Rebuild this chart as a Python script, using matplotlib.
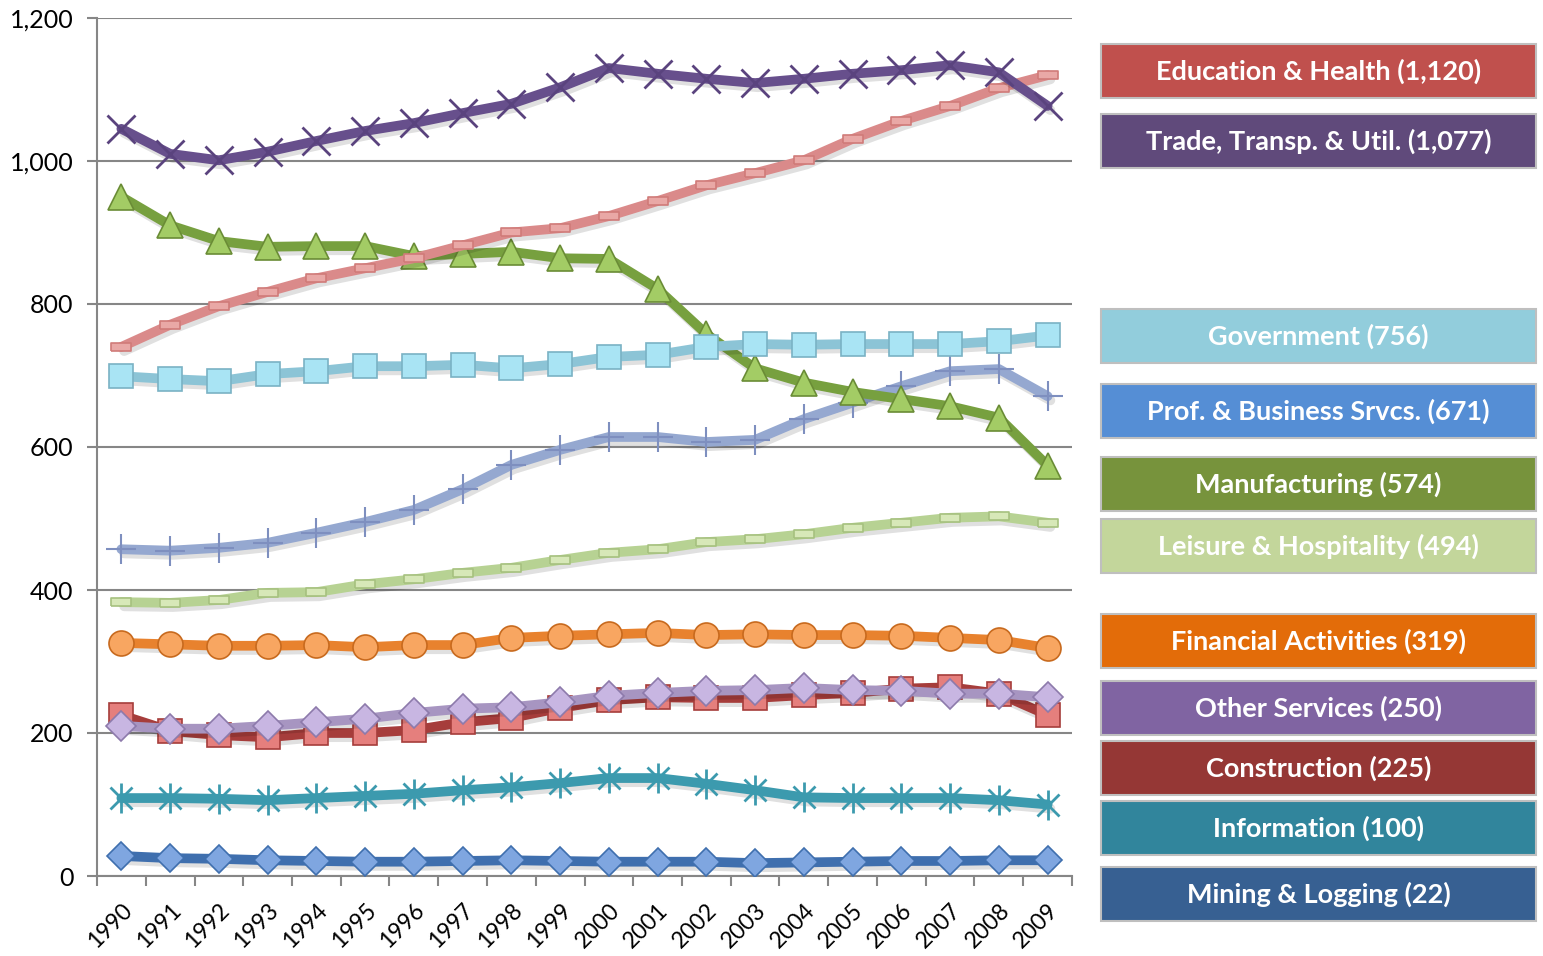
import matplotlib.pyplot as plt
from matplotlib.patches import Rectangle
import matplotlib.patheffects as pe
from matplotlib.ticker import FuncFormatter
import numpy as np

years = list(range(1990, 2010))

edu_health = [740, 771, 797, 817, 836, 850, 864, 882, 900, 906, 923, 944, 966, 983, 1001, 1031, 1056, 1077, 1102, 1120]
trade = [1045, 1010, 1001, 1013, 1028, 1042, 1053, 1067, 1080, 1103, 1130, 1122, 1115, 1109, 1115, 1122, 1127, 1134, 1124, 1077]
manufacturing = [950, 910, 888, 880, 881, 881, 867, 870, 873, 864, 863, 821, 758, 710, 690, 677, 667, 657, 641, 574]
government = [699, 695, 692, 702, 706, 713, 713, 715, 710, 716, 726, 729, 740, 744, 743, 744, 744, 744, 748, 756]
prof_business = [457, 455, 459, 466, 480, 495, 512, 541, 575, 596, 614, 614, 607, 610, 639, 662, 685, 706, 709, 671]
leisure = [383, 382, 386, 396, 397, 408, 415, 424, 431, 442, 452, 457, 467, 471, 478, 487, 494, 501, 503, 494]
financial = [326, 324, 322, 322, 323, 320, 323, 323, 333, 336, 338, 340, 337, 338, 337, 337, 336, 333, 330, 319]
other_services = [210, 206, 206, 210, 215, 220, 228, 234, 236, 243, 252, 256, 259, 260, 263, 260, 259, 255, 255, 250]
construction = [225, 203, 197, 194, 200, 200, 204, 215, 221, 235, 246, 250, 249, 249, 253, 256, 262, 264, 255, 225]
information = [109, 109, 108, 106, 109, 112, 115, 120, 124, 130, 137, 137, 129, 120, 110, 109, 109, 109, 106, 100]
mining = [28, 25, 24, 22, 21, 20, 20, 21, 22, 21, 20, 20, 20, 18, 19, 20, 21, 21, 22, 22]

legend_labels = ["Education & Health (1,120)", "Trade, Transp. & Util. (1,077)",
                 "Government (756)", "Prof. & Business Srvcs. (671)",
                 "Manufacturing (574)", "Leisure & Hospitality (494)",
                 "Financial Activities (319)", "Other Services (250)",
                 "Construction (225)", "Information (100)", "Mining & Logging (22)"]
legend_colors = ["#C0504D", "#604A7B", "#92CDDC", "#558ED5", "#77933C", "#C3D69B",
                 "#E36C09", "#8064A2", "#953735", "#31859C", "#376092"]
legend_centers = [71, 141, 336, 411, 484, 546, 641, 708, 768, 828, 894]

W, H = 1543, 956
fig = plt.figure(figsize=(W / 100, H / 100), dpi=100)
ax = fig.add_axes([97 / W, 1 - 876 / H, (1072 - 97) / W, (876 - 18) / H])

x = np.arange(len(years))
shadow = [pe.SimpleLineShadow(offset=(2, -3), alpha=0.12, shadow_color='black'), pe.Normal()]
dash = [(-1, -0.45), (1, -0.45), (1, 0.45), (-1, 0.45), (-1, -0.45)]


def line(vals, color, marker, ms, mfc, mec, mew=1.2, z=3):
    ax.plot(x, vals, color=color, lw=7, zorder=z, solid_capstyle='round',
            solid_joinstyle='round', path_effects=shadow)
    ax.plot(x, vals, ls='none', marker=marker, ms=ms, mfc=mfc, mec=mec,
            mew=mew, zorder=z + 0.01)


line(mining, "#3F6FAE", "D", 14, "#7FA6E0", "#3F6FAE", z=3)
line(information, "#3C9AAE", "x", 16, "#3C9AAE", "#3C9AAE", mew=2, z=3.1)
ax.plot(x, information, ls='none', marker='|', ms=22, mec="#3C9AAE", mew=2, zorder=3.11)
line(construction, "#A63D3B", "s", 17, "#E57F7D", "#A63D3B", z=3.2)
line(other_services, "#A795C1", "D", 15, "#C8B6E2", "#8D7AAB", z=3.3)
line(financial, "#E8822E", "o", 18, "#F8A661", "#C86A1E", z=3.4)
line(leisure, "#B7D293", dash, 14, "#D7E8B8", "#A6C17F", z=3.5)
line(prof_business, "#95A8D0", "+", 22, "#7E8FBF", "#7E8FBF", mew=1.5, z=3.6)
line(manufacturing, "#77A03F", "^", 19, "#A3CC65", "#6A8C36", z=3.7)
line(government, "#8CC4D6", "s", 17, "#A9E4F4", "#7AB2C4", z=3.8)
line(edu_health, "#DA8A8A", dash, 14, "#E9A8A6", "#D07B79", z=3.9)
line(trade, "#674F8C", "x", 20, "#5A437E", "#5A437E", mew=2, z=4)

ax.set_xlim(-0.5, len(years) - 0.5)
ax.set_ylim(0, 1200)
ax.set_yticks(range(0, 1201, 200))
ax.yaxis.set_major_formatter(FuncFormatter(lambda v, p: f"{int(v):,}"))
ax.grid(axis='y', color='#868686', lw=1.5, zorder=1)
ax.set_axisbelow(True)

ax.set_xticks(np.arange(-0.5, len(years), 1.0))
ax.set_xticklabels([])
ax.set_xticks(x, minor=True)
ax.set_xticklabels([str(y) for y in years], minor=True, rotation=45, ha='right',
                   rotation_mode='anchor', fontsize=16.5, family='Lato')
ax.tick_params(axis='x', which='major', length=7, width=1.5, color='#868686', direction='out')
ax.tick_params(axis='x', which='minor', length=0, pad=17)
ax.tick_params(axis='y', length=7, width=1.5, color='#868686', direction='out', pad=10, labelsize=18)
for lbl in ax.get_yticklabels():
    lbl.set_family('Lato')

for s in ['top', 'right']:
    ax.spines[s].set_visible(False)
for s in ['left', 'bottom']:
    ax.spines[s].set_color('#868686')
    ax.spines[s].set_linewidth(1.5)

bx0, bx1, bh = 1101, 1536, 54
for lab, col, cy in zip(legend_labels, legend_colors, legend_centers):
    fig.add_artist(Rectangle((bx0 / W, 1 - (cy + bh / 2) / H), (bx1 - bx0) / W, bh / H,
                             transform=fig.transFigure, facecolor=col,
                             edgecolor='#BFBFBF', lw=1.5))
    fig.text((bx0 + bx1) / 2 / W, 1 - cy / H, lab, color='white', fontsize=19.5,
             fontweight='bold', family='Lato', ha='center', va='center')

fig.savefig("out.png", dpi=100)
